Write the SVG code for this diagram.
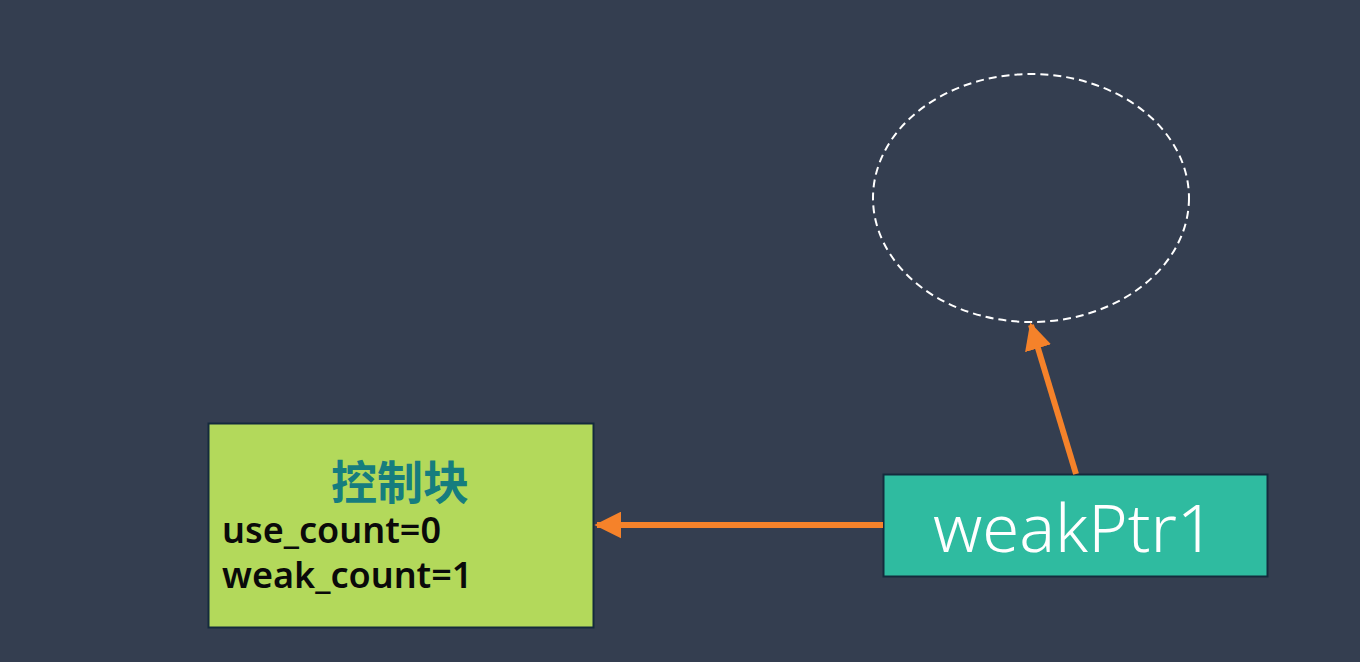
<svg xmlns="http://www.w3.org/2000/svg" width="1360" height="662" viewBox="0 0 1360 662">
<style>
.conn{stroke:#f5822a;stroke-width:6;fill:none}
.lbl{font-family:"Noto Sans","Noto Sans CJK SC",sans-serif}
</style>
<defs>
<marker id="ah" viewBox="0 0 10 10" refX="9" refY="5" markerWidth="4.5" markerHeight="4.5" orient="auto" markerUnits="strokeWidth">
<path d="M0,0 L10,5 L0,10 z" fill="#f5822a"/>
</marker>
</defs>
<rect width="1360" height="662" fill="#343e50"/>
<g id="target">
<ellipse cx="1031" cy="198" rx="158" ry="124" fill="none" stroke="#ffffff" stroke-width="2" stroke-dasharray="8,5"/>
</g>
<g id="control-block">
<rect x="208.5" y="423.5" width="385" height="204" fill="#b3d95b" stroke="#142a3c" stroke-width="2"/>
<text class="lbl" x="400" y="499" font-size="46" font-weight="bold" fill="#167d7e" text-anchor="middle" font-family="'Noto Sans CJK SC',sans-serif">控制块</text>
<text class="lbl" x="222" y="543" font-size="36" font-weight="600" fill="#0a0a0a">use_count=0</text>
<text class="lbl" x="222" y="588" font-size="36" font-weight="600" fill="#0a0a0a">weak_count=1</text>
</g>
<g id="weakPtr1">
<rect x="883.5" y="474.5" width="384" height="102" fill="#2fbba0" stroke="#142a3c" stroke-width="2"/>
<text class="lbl" x="1074" y="552" font-size="67" font-weight="300" fill="#ffffff" text-anchor="middle">weakPtr1</text>
</g>
<g id="connectors">
<line class="conn" x1="883" y1="525" x2="597" y2="525" marker-end="url(#ah)"/>
<line class="conn" x1="1076" y1="474" x2="1031" y2="325" marker-end="url(#ah)"/>
</g>
</svg>
